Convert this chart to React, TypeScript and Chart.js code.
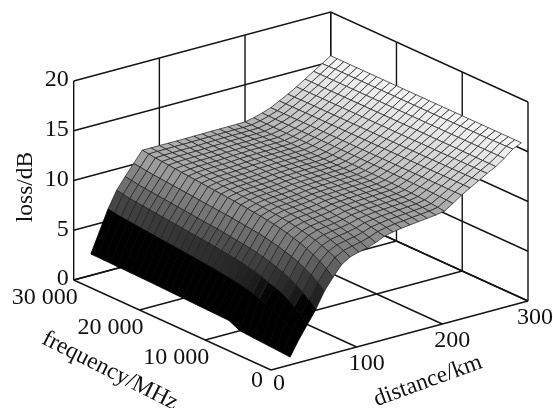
import React, { useEffect, useRef } from "react";
import { Chart, registerables } from "chart.js";

Chart.register(...registerables);

// Tick values
const frequencyTicks = [0, 10000, 20000, 30000];
const distanceTicks = [0, 100, 200, 300];
const lossTicks = [0, 5, 10, 15, 20];

// Grid of the surface: frequency in MHz, distance in km
const frequencies = Array.from({ length: 30 }, (_, i) => (i + 1) * 1000);
const distances = [20, 40, 50, 60, 70, 80, 90, 100, 110, 120, 130, 140, 150, 160, 170, 180, 190, 200, 210, 220, 230, 240, 250, 260, 270, 280, 290, 300];
// first distance actually reached by each frequency row (the cut near the low-frequency corner)
const startKm = [30, 29.3, 28.6, 27.9, 27.1, 26.4, 25.7, 25, 20, 20, 20, 20, 20, 20, 20, 20, 20, 20, 20, 20, 20, 20, 20, 20, 20, 20, 20, 20, 20, 20];

// loss in dB; one row per frequency
const lossRows = [
  [0.30,1.80,3.10,4.40,6.00,7.15,8.20,8.75,9.00,9.20,9.50,9.90,10.10,10.25,10.35,10.45,10.55,10.65,10.80,11.35,11.95,12.45,12.95,13.45,13.90,14.50,15.20,15.60],
  [0.40,2.42,3.77,5.04,6.57,7.72,8.62,9.09,9.31,9.48,9.74,10.08,10.26,10.39,10.47,10.56,10.65,10.74,10.89,11.40,11.96,12.45,12.94,13.44,13.91,14.50,15.18,15.60],
  [0.49,2.90,4.29,5.55,7.03,8.16,8.95,9.36,9.55,9.70,9.93,10.23,10.38,10.50,10.57,10.65,10.73,10.81,10.96,11.44,11.96,12.45,12.94,13.44,13.91,14.50,15.16,15.60],
  [0.58,3.30,4.72,5.96,7.39,8.53,9.22,9.58,9.75,9.88,10.08,10.35,10.48,10.59,10.65,10.72,10.79,10.86,11.02,11.47,11.97,12.45,12.93,13.43,13.92,14.50,15.15,15.60],
  [0.68,3.65,5.10,6.33,7.72,8.85,9.46,9.78,9.92,10.04,10.21,10.45,10.57,10.67,10.72,10.79,10.84,10.91,11.07,11.50,11.97,12.45,12.93,13.43,13.92,14.50,15.14,15.60],
  [0.77,3.91,5.38,6.61,7.97,9.09,9.64,9.93,10.06,10.16,10.32,10.53,10.64,10.73,10.78,10.83,10.89,10.95,11.11,11.52,11.97,12.45,12.93,13.43,13.92,14.50,15.13,15.60],
  [0.87,4.13,5.62,6.84,8.17,9.30,9.79,10.05,10.17,10.26,10.40,10.60,10.69,10.77,10.82,10.87,10.92,10.98,11.14,11.54,11.98,12.45,12.92,13.42,13.93,14.50,15.12,15.60],
  [0.96,4.35,5.86,7.07,8.38,9.50,9.94,10.17,10.28,10.36,10.49,10.67,10.75,10.82,10.87,10.91,10.96,11.01,11.18,11.55,11.98,12.45,12.92,13.42,13.93,14.50,15.11,15.60],
  [1.80,4.53,6.05,7.25,8.54,9.66,10.06,10.27,10.36,10.44,10.55,10.72,10.79,10.86,10.90,10.95,10.98,11.03,11.20,11.57,11.98,12.45,12.92,13.42,13.93,14.50,15.11,15.60],
  [1.82,4.66,6.19,7.39,8.67,9.78,10.15,10.34,10.43,10.50,10.61,10.76,10.83,10.89,10.93,10.97,11.01,11.05,11.22,11.58,11.98,12.45,12.92,13.42,13.93,14.50,15.10,15.60],
  [1.84,4.79,6.33,7.53,8.79,9.90,10.24,10.42,10.50,10.56,10.66,10.80,10.86,10.92,10.96,10.99,11.03,11.07,11.24,11.59,11.98,12.45,12.92,13.42,13.93,14.50,15.10,15.60],
  [1.86,4.88,6.43,7.62,8.87,9.99,10.30,10.47,10.54,10.60,10.69,10.82,10.88,10.94,10.97,11.01,11.04,11.08,11.26,11.60,11.99,12.45,12.91,13.41,13.94,14.50,15.08,15.60],
  [1.88,4.97,6.52,7.71,8.95,10.07,10.36,10.51,10.58,10.64,10.72,10.85,10.91,10.96,10.99,11.03,11.05,11.10,11.27,11.60,11.99,12.45,12.91,13.41,13.94,14.50,15.08,15.60],
  [1.90,5.06,6.62,7.80,9.03,10.15,10.42,10.56,10.63,10.68,10.76,10.88,10.93,10.98,11.01,11.04,11.07,11.11,11.28,11.61,11.99,12.45,12.91,13.41,13.94,14.50,15.08,15.60],
  [1.92,5.14,6.71,7.90,9.12,10.23,10.48,10.61,10.67,10.72,10.79,10.90,10.95,11.00,11.03,11.06,11.08,11.12,11.29,11.62,11.99,12.45,12.91,13.41,13.94,14.50,15.08,15.60],
  [1.94,5.21,6.78,7.97,9.18,10.29,10.53,10.65,10.71,10.75,10.82,10.92,10.97,11.02,11.04,11.07,11.09,11.13,11.30,11.62,11.99,12.45,12.91,13.41,13.94,14.50,15.08,15.60],
  [1.96,5.28,6.85,8.03,9.24,10.35,10.57,10.69,10.74,10.78,10.84,10.94,10.98,11.03,11.05,11.08,11.10,11.14,11.31,11.63,11.99,12.45,12.91,13.41,13.94,14.50,15.08,15.60],
  [1.98,5.34,6.92,8.10,9.30,10.41,10.62,10.72,10.77,10.81,10.87,10.96,11.00,11.05,11.07,11.09,11.11,11.15,11.32,11.63,11.99,12.45,12.91,13.41,13.94,14.50,15.08,15.60],
  [2.00,5.41,6.99,8.17,9.36,10.47,10.66,10.76,10.80,10.84,10.89,10.98,11.02,11.06,11.08,11.11,11.12,11.16,11.33,11.64,12.00,12.45,12.91,13.41,13.94,14.50,15.08,15.60],
  [2.02,5.47,7.07,8.24,9.42,10.53,10.71,10.80,10.84,10.87,10.92,11.00,11.04,11.08,11.09,11.12,11.13,11.17,11.34,11.64,12.00,12.45,12.91,13.41,13.94,14.50,15.08,15.60],
  [2.04,5.54,7.14,8.31,9.49,10.59,10.75,10.83,10.87,10.90,10.95,11.02,11.05,11.09,11.11,11.13,11.15,11.18,11.35,11.65,12.00,12.45,12.91,13.41,13.94,14.50,15.08,15.60],
  [2.05,5.61,7.21,8.38,9.55,10.65,10.80,10.87,10.90,10.93,10.97,11.04,11.07,11.11,11.12,11.14,11.16,11.19,11.36,11.65,12.00,12.45,12.91,13.41,13.94,14.50,15.08,15.60],
  [2.07,5.67,7.28,8.45,9.61,10.71,10.84,10.91,10.94,10.96,11.00,11.06,11.09,11.12,11.13,11.15,11.17,11.20,11.37,11.66,12.00,12.45,12.91,13.41,13.94,14.50,15.08,15.60],
  [2.08,5.74,7.35,8.52,9.67,10.77,10.89,10.94,10.97,10.99,11.02,11.08,11.10,11.14,11.15,11.17,11.18,11.20,11.38,11.66,12.00,12.45,12.91,13.41,13.94,14.50,15.08,15.60],
  [2.10,5.80,7.42,8.59,9.73,10.84,10.93,10.98,11.00,11.02,11.05,11.10,11.12,11.15,11.16,11.18,11.19,11.21,11.39,11.67,12.00,12.45,12.91,13.41,13.94,14.50,15.08,15.60],
  [2.11,5.87,7.49,8.66,9.79,10.90,10.98,11.02,11.04,11.05,11.07,11.12,11.14,11.17,11.17,11.19,11.20,11.22,11.40,11.67,12.00,12.45,12.91,13.41,13.94,14.50,15.08,15.60],
  [2.12,5.94,7.57,8.72,9.85,10.96,11.02,11.05,11.07,11.08,11.10,11.14,11.15,11.18,11.19,11.20,11.21,11.23,11.41,11.68,12.00,12.45,12.91,13.41,13.94,14.50,15.08,15.60],
  [2.13,6.00,7.64,8.79,9.92,11.02,11.07,11.09,11.10,11.11,11.12,11.16,11.17,11.20,11.20,11.21,11.22,11.24,11.42,11.68,12.00,12.45,12.91,13.41,13.94,14.50,15.08,15.60],
  [2.14,6.11,7.76,8.91,10.02,11.12,11.14,11.15,11.16,11.16,11.17,11.19,11.20,11.22,11.22,11.23,11.23,11.26,11.44,11.69,12.00,12.45,12.90,13.40,13.95,14.50,15.06,15.60],
  [2.15,6.20,7.85,9.00,10.10,11.20,11.20,11.20,11.20,11.20,11.20,11.22,11.22,11.24,11.24,11.25,11.25,11.27,11.45,11.70,12.00,12.45,12.90,13.40,13.95,14.50,15.05,15.60],
];

// Grey shade per mean cell height
const shadeLoss = [0, 4.6, 5.2, 5.8, 6.7, 7.7, 8.4, 9.5, 10.6, 11.3, 12.0, 13.0, 14.0, 15.6];
const shadeGrey = [0, 0, 28, 42, 62, 92, 112, 132, 160, 178, 195, 212, 228, 246];

// Axis titles
const lossTitle = "loss/dB";
const frequencyTitle = "frequency/MHz";
const distanceTitle = "distance/km";

const formatFrequency = (f: number) => (f === 0 ? "0" : `${f / 1000} 000`);

// Oblique projection of the box onto the picture
const project = (f: number, d: number, z: number) => ({
  x: 271 + (d / 300) * 257 - (f / 30000) * 197.3,
  y: 370 - (d / 300) * 69 - (f / 30000) * 90 - (z / 20) * 199,
});

const greyLevel = (z: number) => {
  let i = 0;
  while (i < shadeLoss.length - 2 && z > shadeLoss[i + 1]) i++;
  const t = Math.min(1, Math.max(0, (z - shadeLoss[i]) / (shadeLoss[i + 1] - shadeLoss[i])));
  return Math.round(shadeGrey[i] + t * (shadeGrey[i + 1] - shadeGrey[i]));
};

const TICK_FONT = '24px "Liberation Serif"';
const TITLE_FONT = '23.5px "Liberation Serif"';
const INK = "#111111";

const lineSet = (data: { x: number; y: number }[]) => ({
  data,
  showLine: true,
  fill: false,
  borderColor: "#141414",
  borderWidth: 1.4,
  pointRadius: 0,
  tension: 0,
});

function buildDatasets() {
  const back: any[] = [];
  const fMax = 30000;
  const dMax = 300;
  // floor
  frequencyTicks.forEach((f) => back.push(lineSet([project(f, 0, 0), project(f, dMax, 0)])));
  distanceTicks.forEach((d) => back.push(lineSet([project(0, d, 0), project(fMax, d, 0)])));
  // walls, horizontals
  lossTicks.forEach((z) => {
    back.push(lineSet([project(fMax, 0, z), project(fMax, dMax, z), project(0, dMax, z)]));
  });
  // walls, verticals
  distanceTicks.forEach((d) => back.push(lineSet([project(fMax, d, 0), project(fMax, d, 20)])));
  frequencyTicks.forEach((f) => back.push(lineSet([project(f, dMax, 0), project(f, dMax, 20)])));

  const cells: any[] = [];
  const kmAt = (i: number, j: number) => (j === 0 ? startKm[i] : distances[j]);
  for (let i = frequencies.length - 2; i >= 0; i--) {
    for (let j = distances.length - 2; j >= 0; j--) {
      const corners = [
        [i, j],
        [i + 1, j],
        [i + 1, j + 1],
        [i, j + 1],
        [i, j],
      ];
      const mean = (lossRows[i][j] + lossRows[i + 1][j] + lossRows[i + 1][j + 1] + lossRows[i][j + 1]) / 4;
      const g = greyLevel(mean);
      cells.push({
        data: corners.map(([a, b]) => project(frequencies[a], kmAt(a, b), lossRows[a][b])),
        showLine: true,
        fill: "shape",
        backgroundColor: `rgb(${g},${g},${g})`,
        borderColor: g === 0 ? "#000000" : "rgba(30,30,30,0.9)",
        borderWidth: 0.8,
        pointRadius: 0,
        tension: 0,
      });
    }
  }
  // Chart.js paints the first dataset last
  return [...back, ...cells].reverse();
}

const textPlugin = {
  id: "boxText",
  afterDraw(chart: any) {
    const { ctx, scales } = chart;
    const px = (p: { x: number; y: number }) => ({
      x: scales.x.getPixelForValue(p.x),
      y: scales.y.getPixelForValue(p.y),
    });
    const put = (text: string, x: number, y: number, align: CanvasTextAlign, font: string, angle = 0) => {
      ctx.save();
      ctx.translate(x, y);
      ctx.rotate((angle * Math.PI) / 180);
      ctx.font = font;
      ctx.fillStyle = INK;
      ctx.textAlign = align;
      ctx.textBaseline = "middle";
      ctx.fillText(text, 0, 0);
      ctx.restore();
    };
    lossTicks.forEach((z) => {
      const p = px(project(30000, 0, z));
      put(String(z), p.x - 5, p.y - 1, "right", TICK_FONT);
    });
    frequencyTicks.forEach((f) => {
      const p = px(project(f, 0, 0));
      if (f === 0) put(formatFrequency(f), p.x - 8, p.y + 11, "right", TICK_FONT);
      else put(formatFrequency(f), p.x + 4, p.y + 17.5, "right", TICK_FONT);
    });
    distanceTicks.forEach((d) => {
      const p = px(project(0, d, 0));
      put(String(d), p.x + (d === 300 ? 7 : d === 0 ? 8 : 10), p.y + (d === 0 ? 14 : 16.5), "center", TICK_FONT);
    });
    put(lossTitle, 26, 187, "center", TITLE_FONT, -90);
    put(frequencyTitle, 110, 371, "center", TITLE_FONT, 26.8);
    put(distanceTitle, 428, 381, "center", TITLE_FONT, -20);
  },
};

export default function App() {
  const ref = useRef<HTMLCanvasElement | null>(null);
  useEffect(() => {
    if (!ref.current) return;
    const chart = new Chart(ref.current, {
      type: "scatter",
      data: { datasets: buildDatasets() },
      options: {
        animation: false,
        responsive: false,
        layout: { padding: 0 },
        events: [],
        plugins: { legend: { display: false }, tooltip: { enabled: false }, title: { display: false } },
        scales: {
          x: { type: "linear", min: 0, max: 553, display: false },
          y: { type: "linear", min: 0, max: 408, reverse: true, display: false },
        },
      },
      plugins: [textPlugin],
    } as any);
    return () => chart.destroy();
  }, []);
  return (
    <canvas
      ref={ref}
      width={553}
      height={408}
      style={{ position: "absolute", left: 0, top: 0, display: "block" }}
    />
  );
}
